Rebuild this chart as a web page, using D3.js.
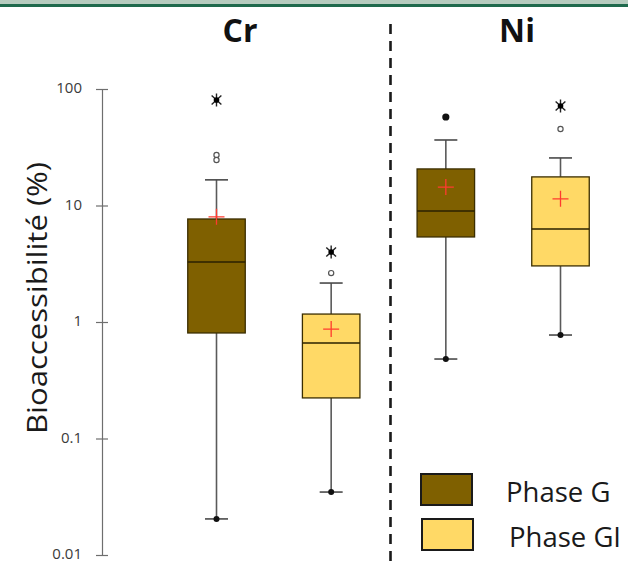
<!DOCTYPE html>
<html>
<head>
<meta charset="utf-8">
<script src="https://cdn.jsdelivr.net/npm/d3@7"></script>
<style>
  body { margin: 0; background: #fff; }
  svg { display: block; }
</style>
</head>
<body>
<svg id="chart" width="628" height="563"></svg>
<script>
// données
const elements = ['Cr', 'Ni'];
const phases = ['Phase G', 'Phase GI'];
const groups = ['Cr-G', 'Cr-GI', 'Ni-G', 'Ni-GI'];
const groupPhase = ['Phase G', 'Phase GI', 'Phase G', 'Phase GI'];
const q1Values = [0.805, 0.223, 5.37, 3.03];
const medianValues = [3.27, 0.66, 8.97, 6.28];
const q3Values = [7.66, 1.17, 20.6, 17.6];
const whiskerLow = [0.0204, 0.0347, 0.481, 0.773];
const whiskerHigh = [16.6, 2.16, 36.5, 25.6];
const meanValues = [8.0, 0.87, 14.4, 11.4];
const maxDots = [[], [], [57.5], []];
const mildOutliers = [[27.1, 24.6], [2.63], [], [45.4]];
const extremeOutliers = [[80.5], [3.99], [], [71.5]];
const yTicks = [0.01, 0.1, 1, 10, 100];
const yTickLabels = ['0.01', '0.1', '1', '10', '100'];

const svg = d3.select('#chart');
const colors = d3.scaleOrdinal().domain(phases).range(['#7f6000', '#ffd966']);

// bandeau vert en haut
svg.append('rect').attr('x', 0).attr('y', 0).attr('width', 628).attr('height', 5).attr('fill', '#b6ccbf');
svg.append('rect').attr('x', 0).attr('y', 4).attr('width', 628).attr('height', 3).attr('fill', '#1f6a4d');

const axisX = 102;
const y = d3.scaleLog().domain([0.01, 100]).range([555, 89]);
const x = d3.scalePoint().domain(groups).range([216.5, 560.5]);
const boxWidth = 57.5;
const capWidth = 23;

// axe Y
const yAxis = svg.append('g')
    .attr('transform', `translate(${axisX},0)`)
    .call(d3.axisLeft(y)
        .tickValues(yTicks)
        .tickFormat((d, i) => yTickLabels[i])
        .tickSizeInner(6)
        .tickSizeOuter(0)
        .tickPadding(14));
yAxis.select('.domain').attr('stroke', '#6e6e6e').attr('stroke-width', 1.2);
yAxis.selectAll('.tick line').attr('x1', -6).attr('x2', 6).attr('stroke', '#6e6e6e').attr('stroke-width', 1.2);
yAxis.selectAll('.tick text')
    .attr('fill', '#3a3a3a')
    .attr('dy', '0.26em')
    .style('font-family', '"Open Sans", sans-serif')
    .style('font-size', '15px');

svg.append('text')
    .attr('transform', `translate(47, 298) rotate(-90)`)
    .attr('text-anchor', 'middle')
    .attr('fill', '#1a1a1a')
    .style('font-family', '"Open Sans", sans-serif')
    .style('font-size', '28px')
    .attr('textLength', 272)
    .attr('lengthAdjust', 'spacingAndGlyphs')
    .text('Bioaccessibilité (%)');

// titres
const titleX = [240, 517];
elements.forEach((el, i) => {
    svg.append('text')
        .attr('x', titleX[i])
        .attr('y', 42)
        .attr('text-anchor', 'middle')
        .attr('fill', '#111')
        .style('font-family', '"Open Sans", sans-serif')
        .style('font-weight', 'bold')
        .style('font-size', '32px')
        .text(el);
});

// séparateur pointillé
const sepX = (x('Cr-GI') + x('Ni-G')) / 2 + 2;
svg.append('line')
    .attr('x1', sepX).attr('x2', sepX)
    .attr('y1', 24).attr('y2', 563)
    .attr('stroke', '#1a1a1a')
    .attr('stroke-width', 2.6)
    .attr('stroke-dasharray', '10,7');

// boîtes
const boxG = svg.append('g');
groups.forEach((g, i) => {
    const cx = x(g);
    const bg = boxG.append('g').attr('class', 'box');
    // moustaches
    bg.append('line')
        .attr('x1', cx).attr('x2', cx)
        .attr('y1', y(whiskerHigh[i])).attr('y2', y(q3Values[i]))
        .attr('stroke', '#5a5a5a').attr('stroke-width', 1.6);
    bg.append('line')
        .attr('x1', cx).attr('x2', cx)
        .attr('y1', y(q1Values[i])).attr('y2', y(whiskerLow[i]))
        .attr('stroke', '#5a5a5a').attr('stroke-width', 1.6);
    [whiskerHigh[i], whiskerLow[i]].forEach(v => {
        bg.append('line')
            .attr('x1', cx - capWidth / 2).attr('x2', cx + capWidth / 2)
            .attr('y1', y(v)).attr('y2', y(v))
            .attr('stroke', '#4a4a4a').attr('stroke-width', 1.6);
    });
    // point du minimum
    bg.append('circle')
        .attr('cx', cx).attr('cy', y(whiskerLow[i])).attr('r', 3)
        .attr('fill', '#111');
    // boîte
    bg.append('rect')
        .attr('x', cx - boxWidth / 2)
        .attr('y', y(q3Values[i]))
        .attr('width', boxWidth)
        .attr('height', y(q1Values[i]) - y(q3Values[i]))
        .attr('fill', colors(groupPhase[i]))
        .attr('stroke', '#3b2e00')
        .attr('stroke-width', 1.3);
    bg.append('line')
        .attr('x1', cx - boxWidth / 2).attr('x2', cx + boxWidth / 2)
        .attr('y1', y(medianValues[i])).attr('y2', y(medianValues[i]))
        .attr('stroke', '#2a2000').attr('stroke-width', 1.5);
    // moyenne
    const my = y(meanValues[i]);
    bg.append('path')
        .attr('d', `M${cx - 8},${my}H${cx + 8}M${cx},${my - 8}V${my + 8}`)
        .attr('stroke', '#ff3b2f').attr('stroke-width', 1.3).attr('fill', 'none');
    // valeurs isolées
    mildOutliers[i].forEach(v => {
        bg.append('circle')
            .attr('cx', cx).attr('cy', y(v)).attr('r', 2.6)
            .attr('fill', '#fff').attr('stroke', '#555').attr('stroke-width', 1.2);
    });
    maxDots[i].forEach(v => {
        bg.append('circle')
            .attr('cx', cx).attr('cy', y(v)).attr('r', 3.6)
            .attr('fill', '#111');
    });
    extremeOutliers[i].forEach(v => {
        const ay = y(v);
        const s = 6.5;
        bg.append('path')
            .attr('d', `M${cx},${ay - s}V${ay + s}M${cx - s * 0.75},${ay - s * 0.7}L${cx + s * 0.75},${ay + s * 0.7}M${cx - s * 0.75},${ay + s * 0.7}L${cx + s * 0.75},${ay - s * 0.7}`)
            .attr('stroke', '#222').attr('stroke-width', 1.4).attr('fill', 'none');
        bg.append('circle').attr('cx', cx).attr('cy', ay).attr('r', 2.8).attr('fill', '#000');
    });
});

// légende
const legend = svg.append('g').attr('transform', 'translate(421, 474)');
phases.forEach((p, i) => {
    const lg = legend.append('g').attr('transform', `translate(${i}, ${i * 45})`);
    lg.append('rect')
        .attr('width', 51).attr('height', 31)
        .attr('fill', colors(p))
        .attr('stroke', '#1a1a1a').attr('stroke-width', 2);
    lg.append('text')
        .attr('x', 85 + i * 2)
        .attr('y', 28)
        .attr('fill', '#1a1a1a')
        .style('font-family', '"Open Sans", sans-serif')
        .style('font-size', '27.5px')
        .text(p);
});
</script>
</body>
</html>
